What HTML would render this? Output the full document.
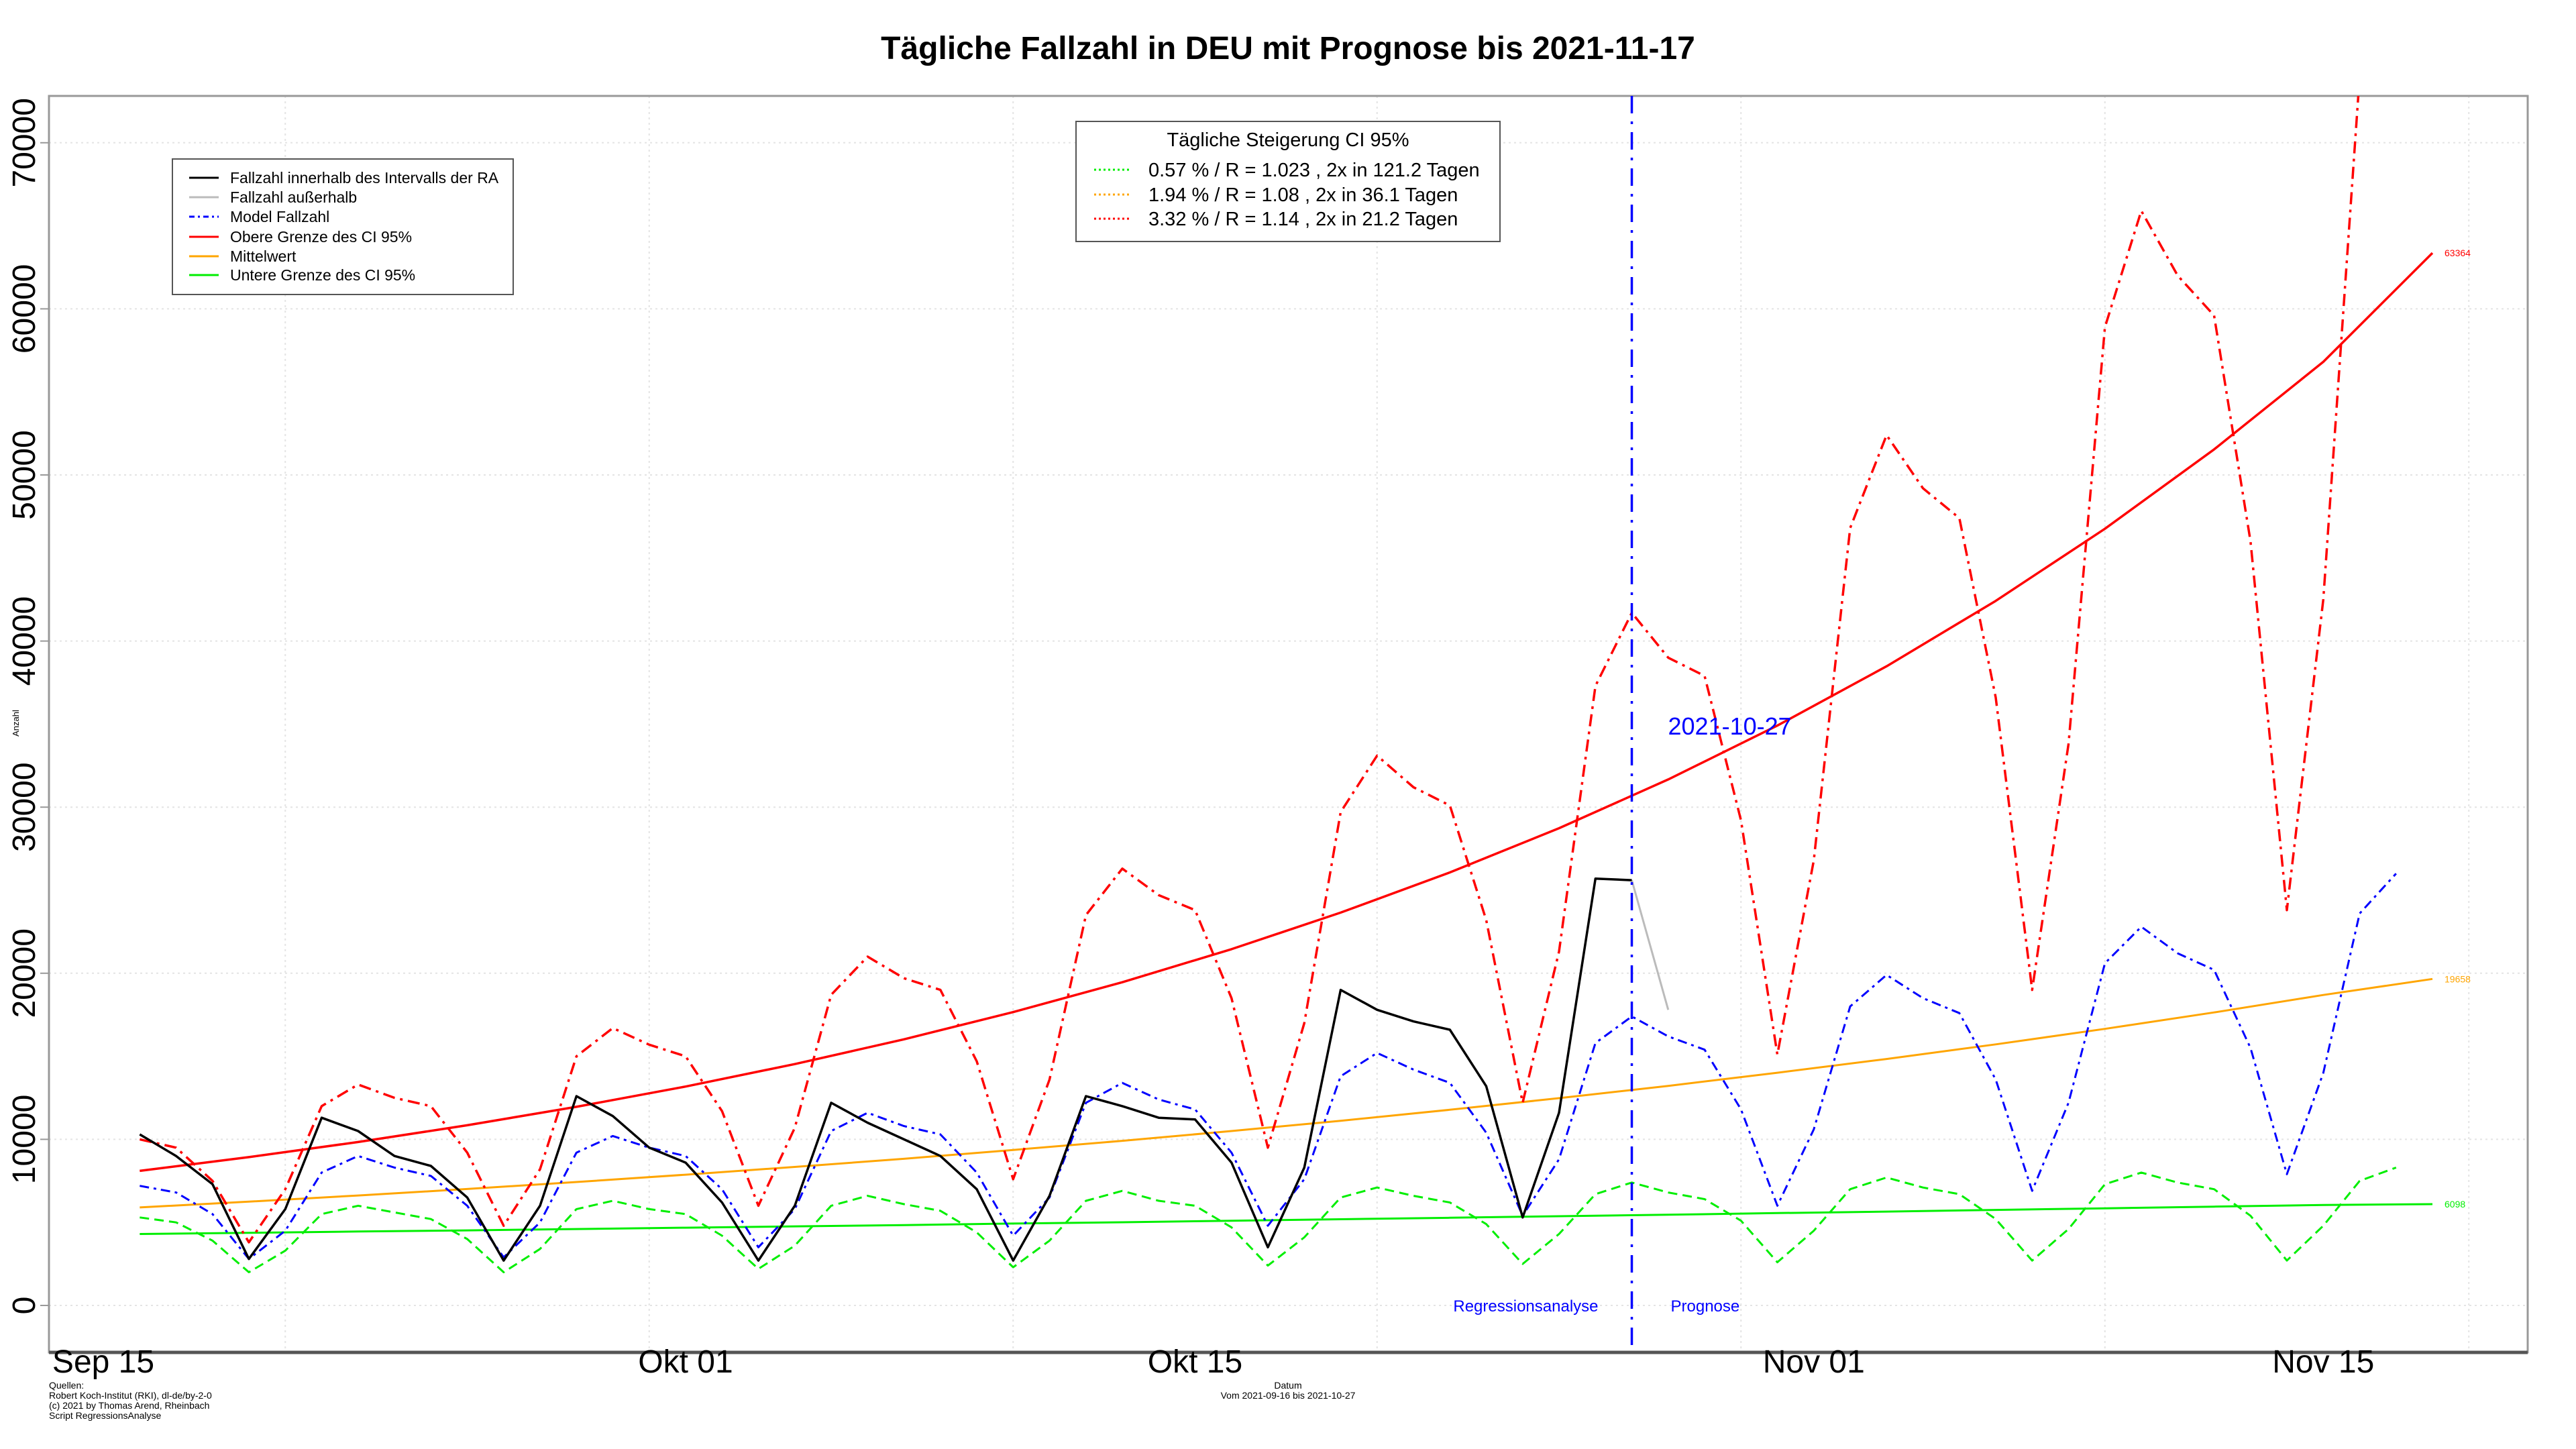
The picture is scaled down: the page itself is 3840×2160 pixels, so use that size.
<!DOCTYPE html>
<html><head><meta charset="utf-8"><style>
html,body{margin:0;padding:0;background:#fff;}
svg{display:block;font-family:"Liberation Sans",sans-serif;}
</style></head><body>
<svg id="chart" width="3840" height="2160" viewBox="0 0 3840 2160" xmlns="http://www.w3.org/2000/svg">
<rect width="3840" height="2160" fill="#fff"/>
<text x="1920" y="88" text-anchor="middle" font-size="48" font-weight="bold">Tägliche Fallzahl in DEU mit Prognose bis 2021-11-17</text>
<defs><clipPath id="plotclip"><rect x="73" y="143" width="3695" height="1873"/></clipPath></defs>
<g id="grid"></g>
<rect x="73" y="143" width="3695" height="1873" fill="none" stroke="#999" stroke-width="3"/>
<line x1="73" y1="2016" x2="3768" y2="2016" stroke="#555" stroke-width="5"/>
<g id="yticks"></g>
<g id="xticks"></g>
<g id="series" clip-path="url(#plotclip)"></g>
<text transform="translate(28,1078) rotate(-90)" text-anchor="middle" font-size="13">Anzahl</text>
<text x="1920" y="2070" text-anchor="middle" font-size="14">Datum</text>
<text x="1920" y="2085" text-anchor="middle" font-size="14">Vom 2021-09-16 bis 2021-10-27</text>
<g font-size="14">
<text x="73" y="2070">Quellen:</text>
<text x="73" y="2085">Robert Koch-Institut (RKI), dl-de/by-2-0</text>
<text x="73" y="2100">(c) 2021 by Thomas Arend, Rheinbach</text>
<text x="73" y="2115">Script RegressionsAnalyse</text>
</g>
<g id="legend1">
<rect x="257" y="237" width="508" height="202" fill="#fff" stroke="#555" stroke-width="2"/>
</g>
<g id="legend2">
<rect x="1604" y="181" width="632" height="179" fill="#fff" stroke="#555" stroke-width="2"/>
<text x="1920" y="218" text-anchor="middle" font-size="29">Tägliche Steigerung CI  95%</text>
</g>
</svg>
<script>
// ----- data -----
const dayIndex = Array.from({length:63},(_,i)=>i+1); // days after 2021-09-15
const actualCases = [10300,9000,7300,2800,5800,11300,10500,9000,8400,6500,2700,6000,12600,11400,9500,8600,6200,2700,6000,12200,11000,10000,9000,7000,2700,6600,12600,12000,11300,11200,8600,3500,8300,19000,17800,17100,16600,13200,5300,11600,25700,25600];
const outsideDays = [42,43];
const outsideCases = [25600,17800];
const modelCases = [7200,6800,5500,2800,4500,8000,9000,8300,7800,6000,2900,5000,9200,10200,9500,9000,7000,3500,5800,10500,11600,10800,10300,8000,4200,6500,12200,13400,12400,11800,9200,4800,7600,13800,15200,14200,13400,10400,5400,8800,15800,17400,16200,15400,11800,6000,10600,18000,19900,18500,17600,13600,6900,12200,20600,22800,21200,20200,15500,7900,14000,23600,26000];
const upperCases = [10000,9500,7500,3800,7000,12000,13300,12500,12000,9200,4800,8200,15000,16700,15700,15000,11700,6000,10700,18700,21000,19700,19000,14700,7600,13600,23500,26300,24700,23800,18500,9500,17000,29700,33100,31200,30100,23200,12200,21300,37300,41700,39000,37900,29200,15100,26800,46800,52400,49200,47400,36600,19000,33800,58900,65900,62000,59600,46000,23800,42500,74000];
const lowerCases = [5300,5000,3900,2000,3300,5500,6000,5600,5200,4000,2000,3400,5800,6300,5800,5500,4200,2200,3600,6000,6600,6100,5700,4400,2300,3900,6300,6900,6300,6000,4700,2400,4100,6500,7100,6600,6200,4900,2500,4300,6700,7400,6800,6400,5100,2600,4500,7000,7700,7100,6700,5200,2700,4600,7300,8000,7400,7000,5400,2700,4800,7500,8300];
const trendDays = [1,4,7,10,13,16,19,22,25,28,31,34,37,40,43,46,49,52,55,58,61,64];
const trendUpper = [8100,8930,9840,10850,11960,13180,14530,16020,17660,19460,21450,23650,26070,28730,31670,34910,38480,42420,46760,51540,56810,63364];
const trendMean = [5900,6250,6620,7010,7430,7870,8340,8830,9360,9910,10500,11120,11780,12480,13220,14010,14840,15720,16650,17640,18690,19658];
const trendLower = [4300,4370,4450,4520,4600,4680,4760,4840,4930,5010,5100,5190,5280,5370,5460,5560,5650,5750,5850,5950,6050,6098];
const yTicks = [0,10000,20000,30000,40000,50000,60000,70000];
const xTickDays = [0,16,30,47,61];
const xTickLabels = ["Sep 15","Okt 01","Okt 15","Nov 01","Nov 15"];
const gridDays = [5,15,25,35,45,55,65];
const cutoffDay = 42;
const legendLabels = ["Fallzahl innerhalb des Intervalls der RA","Fallzahl außerhalb","Model Fallzahl","Obere Grenze des CI 95%","Mittelwert","Untere Grenze des CI 95%"];
const growthLabels = ["0.57 % / R = 1.023 , 2x in 121.2 Tagen","1.94 % / R = 1.08 , 2x in 36.1 Tagen","3.32 % / R = 1.14 , 2x in 21.2 Tagen"];

// ----- scales -----
const X = d => 154 + d*54.25;
const Y = v => 1946 - v*0.02476;
const NS = "http://www.w3.org/2000/svg";
function mk(tag, attrs, parent){const e=document.createElementNS(NS,tag);for(const k in attrs)e.setAttribute(k,attrs[k]);parent.appendChild(e);return e;}
const grid=document.getElementById('grid'), yt=document.getElementById('yticks'), xt=document.getElementById('xticks'), ser=document.getElementById('series');

yTicks.forEach(v=>{
  const g=mk('line',{x1:73,x2:3768,y1:Y(v),y2:Y(v),stroke:'#e4e4e4','stroke-width':2,'stroke-dasharray':'3,5'},grid);
  
  
  const t=mk('line',{x1:60,x2:73,y1:Y(v),y2:Y(v),stroke:'#999','stroke-width':2},yt);
  
  
  const l=mk('text',{transform:`translate(52,${Y(v)}) rotate(-90)`,'text-anchor':'middle','font-size':48},yt);
  l.textContent=v;
  
  
});
gridDays.forEach(d=>{
  const g=mk('line',{x1:X(d),x2:X(d),y1:143,y2:2016,stroke:'#e4e4e4','stroke-width':2,'stroke-dasharray':'3,5'},grid);
  
  
});
xTickDays.forEach((d,i)=>{
  const l=mk('text',{x:X(d),y:2046,'text-anchor':'middle','font-size':48},xt);
  l.textContent=xTickLabels[i];
  
  
});

function path(days, vals, attrs, name){
  const d=vals.map((v,i)=>(i?'L':'M')+X(days[i]).toFixed(1)+','+Y(v).toFixed(1)).join('');
  const p=mk('path',Object.assign({d:d,fill:'none','stroke-linejoin':'round'},attrs),ser);
  
  
  return p;
}
path(trendDays,trendLower,{stroke:'#00ee00','stroke-width':3},'lower-trend-line');
path(trendDays,trendMean,{stroke:'orange','stroke-width':3},'mean-trend-line');
path(trendDays,trendUpper,{stroke:'red','stroke-width':3.5},'upper-trend-line');
path(dayIndex.slice(0,lowerCases.length),lowerCases,{stroke:'#00ee00','stroke-width':3,'stroke-dasharray':'14,8'},'lower-ci-cases-line');
path(dayIndex.slice(0,upperCases.length),upperCases,{stroke:'red','stroke-width':3.5,'stroke-dasharray':'18,8,4,8'},'upper-ci-cases-line');
path(dayIndex.slice(0,modelCases.length),modelCases,{stroke:'blue','stroke-width':3,'stroke-dasharray':'14,7,4,7'},'model-cases-line');
path(outsideDays,outsideCases,{stroke:'#bbb','stroke-width':3},'outside-cases-line');
path(dayIndex.slice(0,actualCases.length),actualCases,{stroke:'#000','stroke-width':3.5},'actual-cases-line');

const svg=document.getElementById('chart');
const cut=mk('line',{x1:X(cutoffDay),x2:X(cutoffDay),y1:143,y2:2016,stroke:'blue','stroke-width':3.5,'stroke-dasharray':'26,12,4,12'},svg);


const cl=mk('text',{x:X(cutoffDay)+54,y:1095,fill:'blue','font-size':36},svg);
cl.textContent='2021-10-27';


const ra=mk('text',{x:X(cutoffDay)-50,y:1955,fill:'blue','font-size':24,'text-anchor':'end'},svg);
ra.textContent='Regressionsanalyse';


const pg=mk('text',{x:X(cutoffDay)+58,y:1955,fill:'blue','font-size':24},svg);
pg.textContent='Prognose';



[[trendUpper,'red'],[trendMean,'orange'],[trendLower,'#00ee00']].forEach(([arr,c])=>{
  const v=arr[arr.length-1];
  const t=mk('text',{x:X(trendDays[trendDays.length-1])+18,y:Y(v)+5,fill:c,'font-size':14},svg);
  t.textContent=v;
  
  
});

const lg1=document.getElementById('legend1');
const lstyles=[['#000',''],['#bbb',''],['blue','8,5,3,5'],['red',''],['orange',''],['#00ee00','']];
const lys=[265,294,323,353,382,410];
legendLabels.forEach((s,i)=>{
  const ln=mk('line',{x1:282,x2:326,y1:lys[i],y2:lys[i],stroke:lstyles[i][0],'stroke-width':3,'stroke-dasharray':lstyles[i][1]},lg1);
  
  
  const t=mk('text',{x:343,y:lys[i]+8,'font-size':23},lg1);
  t.textContent=s;
  
  
});
const lg2=document.getElementById('legend2');
const gcol=['#00ee00','orange','red'];
const gys=[253,290,326];
growthLabels.forEach((s,i)=>{
  const ln=mk('line',{x1:1631,x2:1685,y1:gys[i],y2:gys[i],stroke:gcol[i],'stroke-width':3,'stroke-dasharray':'3,4'},lg2);
  
  
  const t=mk('text',{x:1712,y:gys[i]+10,'font-size':29},lg2);
  t.textContent=s;
  
  
});
</script>
</body></html>
